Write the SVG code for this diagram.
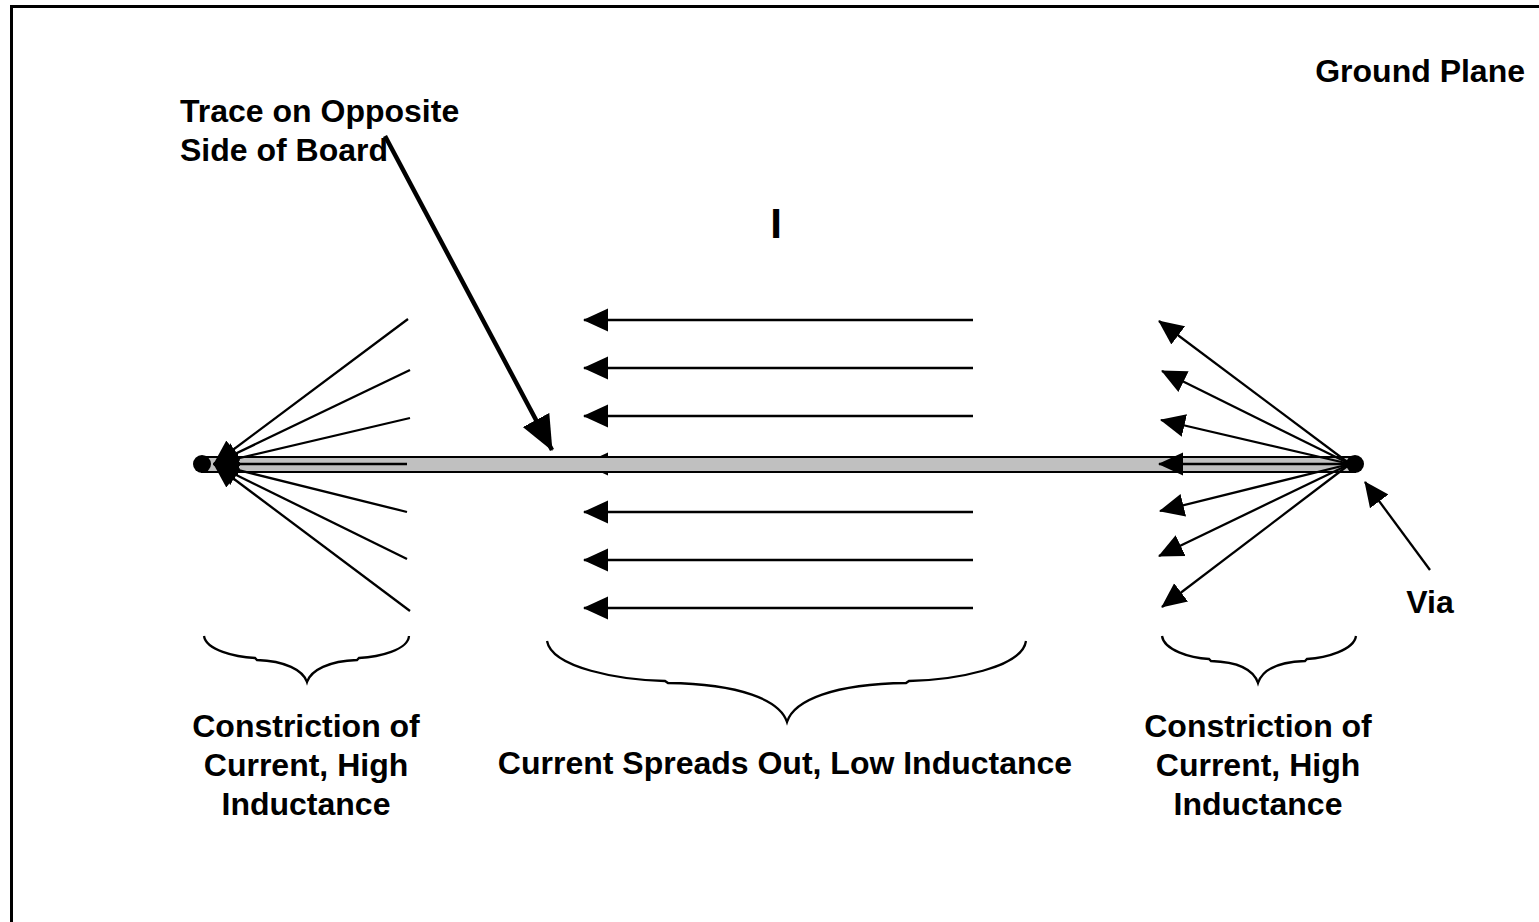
<svg xmlns="http://www.w3.org/2000/svg" width="1539" height="922" viewBox="0 0 1539 922">
  <style>
    .lbl { font-family: "Liberation Sans", Arial, sans-serif; font-weight: bold; font-size: 32px; fill: #000; }
    .mid { text-anchor: middle; }
    .thin { stroke: #000; stroke-width: 2.3; fill: none; }
    .brace { stroke: #000; stroke-width: 2.3; fill: none; }
  </style>
  <defs>
    <marker id="head" markerUnits="userSpaceOnUse" markerWidth="26" markerHeight="26" viewBox="0 0 26 26" refX="24" refY="13" orient="auto">
      <path d="M0,1.5 L25,13 L0,24.5 Z" fill="#000"/>
    </marker>
    <marker id="bighead" markerUnits="userSpaceOnUse" markerWidth="36" markerHeight="32" viewBox="0 0 36 32" refX="34" refY="16" orient="auto">
      <path d="M0,1 L35,16 L0,31 Z" fill="#000"/>
    </marker>
  </defs>

  <!-- ground plane frame -->
  <rect id="frame" x="11.5" y="6.5" width="1540" height="930" fill="#fff" stroke="#000" stroke-width="3"/>

  <g id="labels">
    <text class="lbl" x="1525" y="82" text-anchor="end">Ground Plane</text>
    <text class="lbl" x="180" y="122">Trace on Opposite</text>
    <text class="lbl" x="180" y="161">Side of Board</text>
    <text class="lbl mid" x="776" y="238" style="font-size:42px">I</text>
    <text class="lbl mid" x="1430" y="613">Via</text>
    <text class="lbl mid" x="306" y="737">Constriction of</text>
    <text class="lbl mid" x="306" y="776">Current, High</text>
    <text class="lbl mid" x="306" y="815">Inductance</text>
    <text class="lbl mid" x="785" y="774">Current Spreads Out, Low Inductance</text>
    <text class="lbl mid" x="1258" y="737">Constriction of</text>
    <text class="lbl mid" x="1258" y="776">Current, High</text>
    <text class="lbl mid" x="1258" y="815">Inductance</text>
  </g>

  <!-- uniform return current under the trace -->
  <g id="connectors-spread" class="thin">
    <line x1="973" y1="320" x2="584" y2="320" marker-end="url(#head)"/>
    <line x1="973" y1="368" x2="584" y2="368" marker-end="url(#head)"/>
    <line x1="973" y1="416" x2="584" y2="416" marker-end="url(#head)"/>
    <line x1="973" y1="464" x2="584" y2="464" marker-end="url(#head)"/>
    <line x1="973" y1="512" x2="584" y2="512" marker-end="url(#head)"/>
    <line x1="973" y1="560" x2="584" y2="560" marker-end="url(#head)"/>
    <line x1="973" y1="608" x2="584" y2="608" marker-end="url(#head)"/>
  </g>

  <!-- trace with vias at both ends -->
  <g id="trace">
    <rect x="202" y="457" width="1153" height="15" fill="#c0c0c0" stroke="#000" stroke-width="2"/>
  </g>
  <g id="via-left">
    <circle cx="202" cy="464" r="9" fill="#000"/>
  </g>
  <g id="via-right">
    <circle cx="1355" cy="464" r="9" fill="#000"/>
  </g>

  <!-- current constriction into the left via -->
  <g id="connectors-left" class="thin">
    <line x1="408" y1="319" x2="214" y2="464" marker-end="url(#head)"/>
    <line x1="410" y1="370" x2="214" y2="464" marker-end="url(#head)"/>
    <line x1="410" y1="418" x2="214" y2="464" marker-end="url(#head)"/>
    <line x1="407" y1="464" x2="214" y2="464" marker-end="url(#head)"/>
    <line x1="407" y1="512" x2="214" y2="464" marker-end="url(#head)"/>
    <line x1="407" y1="559" x2="214" y2="464" marker-end="url(#head)"/>
    <line x1="410" y1="611" x2="214" y2="464" marker-end="url(#head)"/>
  </g>

  <!-- current spreading out of the right via -->
  <g id="connectors-right" class="thin">
    <line x1="1350" y1="464" x2="1159" y2="321" marker-end="url(#head)"/>
    <line x1="1350" y1="464" x2="1162" y2="371" marker-end="url(#head)"/>
    <line x1="1350" y1="464" x2="1161" y2="420" marker-end="url(#head)"/>
    <line x1="1350" y1="464" x2="1159" y2="464" marker-end="url(#head)"/>
    <line x1="1350" y1="464" x2="1160" y2="511" marker-end="url(#head)"/>
    <line x1="1350" y1="464" x2="1159" y2="556" marker-end="url(#head)"/>
    <line x1="1350" y1="464" x2="1162" y2="607" marker-end="url(#head)"/>
  </g>

  <!-- callout pointers -->
  <g id="connectors-callouts">
    <line x1="385" y1="136" x2="552" y2="450" stroke="#000" stroke-width="4.5" marker-end="url(#bighead)"/>
    <line x1="1430" y1="570" x2="1365" y2="482" stroke="#000" stroke-width="2.3" marker-end="url(#head)"/>
  </g>

  <!-- region braces -->
  <g id="braces" class="brace">
    <path d="M204,636 C206,650 235,657 255,658 L257,660 C285,661 303,670 307,682 C311,670 329,661 357,660 L359,658 C379,657 408,650 409,636"/>
    <path d="M547,641 C552,668 620,680 665,681 L668,683 C740,684 780,700 787,722 C794,700 834,684 906,683 L909,681 C954,680 1022,668 1026,641"/>
    <path d="M1162,636 C1164,650 1190,658 1209,659 L1211,661 C1240,662 1254,671 1258,683 C1262,671 1276,662 1305,661 L1307,659 C1326,658 1354,650 1356,636"/>
  </g>
</svg>
